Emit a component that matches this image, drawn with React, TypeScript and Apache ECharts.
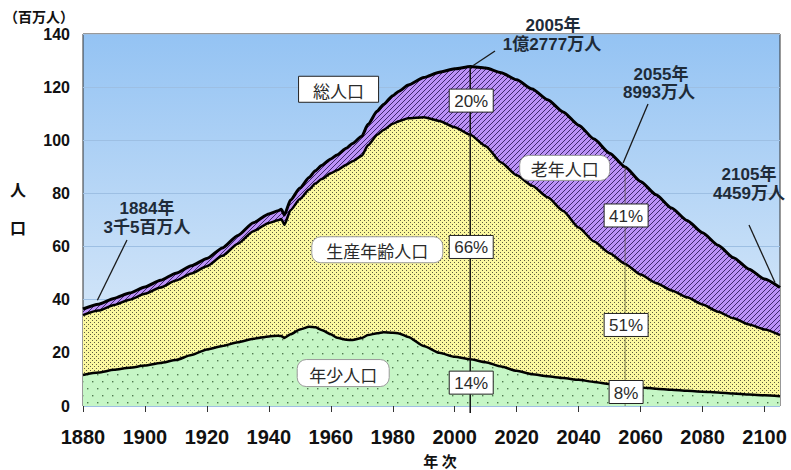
import React, { useEffect, useRef } from "react";
import * as echarts from "echarts";

// 年次
const years = [
  1880, 1885, 1890, 1895, 1900, 1905, 1910, 1915, 1920, 1925, 1930, 1935, 1940,
  1943, 1944, 1945, 1947, 1950, 1953, 1955, 1957, 1960, 1962, 1965, 1967, 1970,
  1972, 1975, 1977, 1980, 1982, 1985, 1990, 1995, 2000, 2005, 2010, 2015, 2020,
  2025, 2030, 2035, 2040, 2045, 2050, 2055, 2060, 2065, 2070, 2075, 2080, 2085,
  2090, 2095, 2100, 2105,
];

// 総人口（百万人）
const totalPop = [
  36.5, 38.3, 40.5, 42.5, 44.8, 47.3, 50.0, 52.8, 55.5, 59.5, 64.2, 69.0, 72.3,
  73.5, 74.0, 71.9, 77.5, 82.0, 86.0, 88.5, 90.5, 93.0, 94.5, 97.0, 98.8, 101.5,
  106.0, 111.0, 113.5, 116.8, 118.5, 120.8, 123.6, 125.6, 126.9, 127.77, 127.18,
  125.43, 122.74, 119.27, 115.22, 110.68, 105.7, 100.44, 95.15, 89.93, 84.5,
  79.5, 74.5, 69.8, 65.2, 60.5, 55.8, 51.5, 47.8, 44.59,
];

// 老年人口（65歳以上、百万人）
const elderlyPop = [
  2.3, 2.4, 2.5, 2.5, 2.6, 2.7, 2.8, 2.9, 2.9, 3.0, 3.1, 3.2, 3.4,
  3.6, 3.6, 3.7, 3.8, 4.1, 4.5, 4.8, 5.1, 5.4, 5.8, 6.2, 6.7, 7.3,
  7.9, 8.9, 9.6, 10.6, 11.3, 12.5, 14.9, 18.3, 22.0, 25.67, 29.41,
  33.78, 35.9, 36.35, 36.67, 37.25, 38.53, 38.56, 37.64, 36.46, 35.0,
  33.2, 31.0, 28.9, 27.0, 25.0, 22.8, 20.8, 19.0, 17.9,
];

// 年少人口（0〜14歳、百万人）
const youngPop = [
  11.7, 12.6, 13.6, 14.4, 15.2, 16.2, 17.3, 19.2, 21.3, 22.6, 24.0, 25.3, 26.2,
  26.4, 26.3, 25.6, 27.0, 28.8, 29.8, 29.6, 28.6, 27.0, 25.7, 24.9, 24.8, 25.6,
  26.7, 27.4, 27.8, 27.6, 27.3, 26.0, 22.6, 20.0, 18.5, 17.59, 16.48,
  14.84, 13.24, 11.96, 11.15, 10.52, 9.84, 9.06, 8.21, 7.52, 7.0,
  6.5, 6.1, 5.7, 5.4, 5.1, 4.7, 4.3, 4.0, 3.7,
];

// 軸の目盛り
const xTickYears = [1880, 1900, 1920, 1940, 1960, 1980, 2000, 2020, 2040, 2060, 2080, 2100];
const yTickValues = [0, 20, 40, 60, 80, 100, 120, 140];

// 割合を示す年
const shareYears = [2005, 2055];

const NUM_FONT = '"Liberation Sans", Arial, "Noto Sans CJK JP", sans-serif';
const JP_FONT = '"Noto Sans CJK JP", sans-serif';

// 65歳未満人口（年少＋生産年齢）と生産年齢人口
const under65Pop = totalPop.map((t, i) => +(t - elderlyPop[i]).toFixed(2));
const workingPop = under65Pop.map((u, i) => +(u - youngPop[i]).toFixed(2));

function makePattern(w: number, h: number, bg: string, paint: (g: CanvasRenderingContext2D) => void) {
  const c = document.createElement("canvas");
  c.width = w;
  c.height = h;
  const g = c.getContext("2d")!;
  g.fillStyle = bg;
  g.fillRect(0, 0, w, h);
  paint(g);
  return { image: c, repeat: "repeat" as const, imageWidth: w, imageHeight: h };
}

function fmtMan(millions: number) {
  const man = Math.round(millions * 100);
  const oku = Math.floor(man / 10000);
  const rest = man % 10000;
  return (oku ? `${oku}億` : "") + `${rest}万人`;
}

function totalAt(year: number) {
  for (let i = 1; i < years.length; i++) {
    if (year <= years[i]) {
      const t = (year - years[i - 1]) / (years[i] - years[i - 1]);
      return totalPop[i - 1] + (totalPop[i] - totalPop[i - 1]) * t;
    }
  }
  return totalPop[totalPop.length - 1];
}

export default function App() {
  const ref = useRef<HTMLDivElement>(null);

  useEffect(() => {
    const el = ref.current!;
    const chart = echarts.init(el, null, { renderer: "svg" });

    // 斜線（老年）、細かい点（生産年齢）、粗い点（年少）
    const hatch = makePattern(5, 5, "#bc92f7", (g) => {
      g.strokeStyle = "#3f2870";
      g.lineWidth = 1;
      for (const o of [-5, 0, 5]) {
        g.beginPath();
        g.moveTo(o, 5);
        g.lineTo(o + 5, 0);
        g.stroke();
      }
    });
    const fineDots = makePattern(4, 4, "#fbf8a0", (g) => {
      g.fillStyle = "#5e5b40";
      g.fillRect(0, 0, 1, 1);
      g.fillRect(2, 2, 1, 1);
    });
    const sparseDots = makePattern(10, 14, "#c6f6c6", (g) => {
      g.fillStyle = "#4f7a4f";
      g.fillRect(2, 3, 1.4, 1.4);
      g.fillRect(7, 10, 1.4, 1.4);
    });

    // 各面は 0 から境界線まで塗り、上から順に重ねる
    const layer = (name: string, values: number[], fill: any, lw: number, z: number) => ({
      name,
      type: "line",
      data: years.map((y, i) => [y, values[i]]),
      symbol: "none",
      smooth: 0.2,
      smoothMonotone: "x",
      silent: true,
      lineStyle: { color: "#000", width: lw },
      areaStyle: { color: fill, opacity: 1 },
      emphasis: { disabled: true },
      z,
    });

    chart.setOption({
      animation: false,
      grid: {
        left: 83,
        right: 11,
        top: 34,
        bottom: 64,
        show: true,
        borderColor: "#333",
        borderWidth: 1,
        backgroundColor: new echarts.graphic.LinearGradient(0, 0, 0, 1, [
          { offset: 0, color: "#94c3f3" },
          { offset: 1, color: "#e6f0fa" },
        ]),
        outerBoundsMode: "none",
      },
      xAxis: {
        type: "value",
        min: 1880,
        max: 2105,
        interval: 20,
        axisLine: { show: false },
        axisTick: { show: true, length: 6, customValues: xTickYears, lineStyle: { color: "#333" } },
        splitLine: { show: false },
        axisLabel: {
          customValues: xTickYears,
          formatter: (v: number) => String(v),
          margin: 21,
          fontSize: 20,
          fontWeight: "bold",
          fontFamily: NUM_FONT,
          color: "#111",
        },
      },
      yAxis: {
        type: "value",
        min: yTickValues[0],
        max: yTickValues[yTickValues.length - 1],
        interval: 20,
        axisLine: { show: false },
        axisTick: { show: false },
        splitLine: { show: true, lineStyle: { color: "#9dbfe3", width: 1 } },
        axisLabel: {
          margin: 13,
          fontSize: 16,
          fontWeight: "bold",
          fontFamily: NUM_FONT,
          color: "#111",
        },
      },
      series: [
        layer("老年人口", totalPop, hatch, 3, 2),
        layer("生産年齢人口", under65Pop, fineDots, 2.5, 3),
        layer("年少人口", youngPop, sparseDots, 2.5, 4),
      ],
    });

    const P = (x: number, y: number) => chart.convertToPixel({ gridIndex: 0 }, [x, y]) as number[];
    const base = P(years[0], 0)[1];

    const text = (x: number, y: number, s: string, opt: any = {}) => ({
      type: "text",
      x,
      y,
      z: 110,
      silent: true,
      style: {
        text: s,
        align: "center",
        verticalAlign: "middle",
        fontFamily: NUM_FONT,
        fontSize: 17,
        fontWeight: "bold",
        fill: "#1e2b38",
        ...opt,
      },
    });
    const line = (x1: number, y1: number, x2: number, y2: number, stroke = "#1a1a1a", lw = 1.3) => ({
      type: "line",
      z: 105,
      silent: true,
      shape: { x1, y1, x2, y2 },
      style: { stroke, lineWidth: lw },
    });
    const box = (cx: number, cy: number, w: number, h: number, r: number, stroke: string) => ({
      type: "rect",
      z: 108,
      silent: true,
      shape: { x: cx - w / 2, y: cy - h / 2, width: w, height: h, r },
      style: { fill: "#fff", stroke, lineWidth: 1 },
    });

    const g: any[] = [];

    // 軸の名前
    g.push(text(4, 16, "（百万人）", { align: "left", fontFamily: JP_FONT, fontSize: 14, fill: "#111" }));
    g.push(text(18, 189, "人", { fontFamily: JP_FONT, fontSize: 16, fill: "#111" }));
    g.push(text(18, 227, "口", { fontFamily: JP_FONT, fontSize: 16, fill: "#111" }));
    g.push(text(440, 460, "年 次", { fontFamily: JP_FONT, fontSize: 15, fill: "#111" }));

    // 基準年の縦線と割合
    shareYears.forEach((yr, k) => {
      const i = years.indexOf(yr);
      const [x, yt] = P(yr, totalPop[i]);
      if (k === 0) g.push(line(x, base + 7, x, yt, "#111", 1.5));
      else g.push(line(x, base, x, yt, "rgba(70,70,40,0.65)", 1));
      const bands = [
        [under65Pop[i], totalPop[i], elderlyPop[i]],
        [youngPop[i], under65Pop[i], workingPop[i]],
        [0, youngPop[i], youngPop[i]],
      ];
      bands.forEach(([lo, hi, v]) => {
        const pct = Math.round((v / totalPop[i]) * 100) + "%";
        const cy = Math.min(P(yr, (lo + hi) / 2)[1], base - 14);
        const w = pct.length > 2 ? 44 : 34;
        g.push(box(x + 1, cy, w, 23, 0, "#222"));
        g.push(text(x + 1, cy + 1, pct, { fontWeight: "normal", fontSize: 17, fill: "#2b2b2b" }));
      });
    });

    // 系列名
    const names: [string, number, number, number, number, number, string][] = [
      ["総人口", 1962.5, 119.2, 80, 26, 0, "#222"],
      ["老年人口", 2035.5, 89.6, 90, 25, 9, "#9a9a9a"],
      ["生産年齢人口", 1975, 58.8, 131, 26, 9, "#9a9a9a"],
      ["年少人口", 1964, 12.4, 92, 27, 9, "#9a9a9a"],
    ];
    names.forEach(([s, yx, yv, w, h, r, stroke]) => {
      const [cx, cy] = P(yx, yv);
      g.push(box(cx, cy, w, h, r, stroke));
      g.push(text(cx, cy + 1, s, { fontFamily: JP_FONT, fontSize: 17, fontWeight: "normal", fill: "#2a2a2a" }));
    });

    // 引き出し線つきの注記
    const [x84, y84] = P(1884, totalAt(1884));
    g.push(text(147, 208, "1884年"), text(147, 227, "3千5百万人"), line(127, 240, x84 + 2, y84 - 5));

    const iA = years.indexOf(2005);
    const [xa, ya] = P(2005, totalPop[iA]);
    g.push(text(553, 25, "2005年"), text(552, 44, fmtMan(totalPop[iA])), line(495, 51, xa + 3, ya - 1));

    const iB = years.indexOf(2055);
    const [xb, yb] = P(2055, totalPop[iB]);
    g.push(text(661, 74, "2055年"), text(659, 92, fmtMan(totalPop[iB])), line(648, 104, xb - 2, yb - 4));

    const iC = years.length - 1;
    const [xc, yc] = P(years[iC], totalPop[iC]);
    g.push(text(749, 174, `${years[iC]}年`), text(749, 193, fmtMan(totalPop[iC])), line(749, 225, xc - 5, yc - 5));

    chart.setOption({ graphic: g });

    return () => chart.dispose();
  }, []);

  return (
    <div
      ref={ref}
      style={{ position: "fixed", left: 0, top: 0, width: 791, height: 470, background: "#fff" }}
    />
  );
}
